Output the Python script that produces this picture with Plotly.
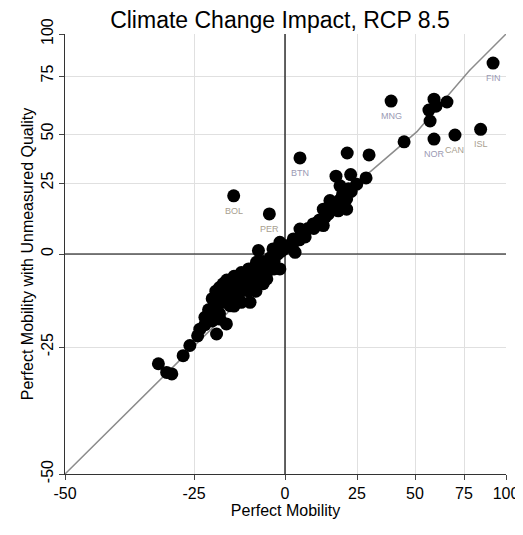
import numpy as np
import plotly.graph_objects as go

# axis is nonlinear in the reference: tick values and their pixel offsets from 0
tick_vals = [-50, -25, 0, 25, 50, 75, 100]
x_pos = [-220, -91, 0, 72, 130, 179, 221]
y_pos = [-220, -93, 0, 71, 120, 178, 220]

# perfect mobility (x) vs perfect mobility w/ unmeasured quality (y)
pm = [92.3, 39.7, 59.7, 66.3, 57.1, 60.7, 57.7, 59.7, 70.4, 84.9, 45.3, 30.2,
      5.2, -14.1, -4.3, 21.6, 28.9, 17.7, 22.8, 19.1, 21.4, 18.5, 21.4, 13.3, 15.6, 24.9,
      13.3, 9.8, 5.2, 2.9, -1.4, -3.3, 3.5, -7.3, -7.8, -1.4, -5.0, -9.6, -14.2, -17.0,
      -12.4, -9.6, -15.1, -20.1, -17.9, -16.1, -23.4, -18.8, -25.8, -27.1, -31.9, -29.3, -30.3,
      -20, -19, -18, -17, -16, -15, -14, -13, -12, -11, -10, -9, -8, -7, -6, -5, -4, -3, -2, -1,
      0, 1, 2, 3, 4, 5, 6, 7, 8, 10, 11, 12, 14, 15, 16, 17, 19, 20, 22, 23,
      -22, -21, -19, -17, -15, -13, -11, -9, -7, -5, -3, -18, -14, -12, -10, -8, -6, -16, -20, -22, -24]
pmq = [82.7, 64.2, 65.0, 63.8, 60.3, 62.0, 55.6, 47.4, 49.5, 52.0, 46.0, 39.3,
       37.8, 20.5, 14.1, 40.3, 27.6, 28.5, 29.3, 24.0, 19.4, 15.2, 15.8, 15.8, 18.8, 24.6,
       10.0, 10.6, 8.8, 5.3, 4.1, 1.8, 0.6, 1.2, -2.2, -4.0, -6.7, -7.6, -8.5, -11.2,
       -10.3, -13.0, -13.9, -15.2, -17.5, -18.8, -20.2, -21.5, -24.6, -26.7, -28.3, -30.3, -30.0,
       -12, -10, -9, -8, -7, -9, -6, -7, -5, -6, -4, -5, -3, -4, -2, -3, -1, -2, 0, 1,
       2, 3, 3, 4, 5, 5, 7, 6, 9, 9, 11, 12, 13, 14, 17, 16, 19, 21, 23, 22,
       -17, -15, -14, -13, -12, -11, -9, -8, -7, -5, -4, -16, -14, -13, -10, -10, -8, -11, -18, -19, -22]

labels = ["FIN", "MNG", "NOR", "CAN", "ISL", "BTN", "BOL", "PER"]
label_x = [92.3, 39.7, 59.7, 70.4, 84.9, 5.2, -14.1, -4.3]
label_y = [82.7, 64.2, 47.4, 49.5, 52.0, 37.8, 20.5, 14.1]
label_col = ["#9a9ab4", "#9a9ab4", "#9a9ab4", "#a8a090", "#a8a090", "#9a9ab4", "#a8a090", "#a8a090"]


def tx(v):
    return np.interp(v, tick_vals, x_pos)


def ty(v):
    return np.interp(v, tick_vals, y_pos)


fig = go.Figure()
diag = np.linspace(-50, 100, 301)
fig.add_trace(go.Scatter(x=tx(diag), y=ty(diag), mode="lines",
                         line=dict(color="#8c8c8c", width=1.5), hoverinfo="skip"))
fig.add_trace(go.Scatter(x=tx(pm), y=ty(pmq), mode="markers",
                         marker=dict(color="black", size=13)))
for lab, lx, ly, c in zip(labels, label_x, label_y, label_col):
    fig.add_annotation(x=tx(lx), y=ty(ly), text=lab, showarrow=False, yshift=-15,
                       font=dict(size=9, color=c, family="Liberation Sans"))

fig.add_shape(type="line", x0=0, x1=0, y0=-220, y1=220, line=dict(color="black", width=1.2))
fig.add_shape(type="line", x0=-220, x1=221, y0=0, y1=0, line=dict(color="black", width=1.2))

fig.update_layout(
    width=523, height=535, showlegend=False,
    paper_bgcolor="white", plot_bgcolor="white",
    margin=dict(l=57, r=25, t=26, b=69, autoexpand=False),
    font=dict(family="Liberation Sans", color="black"),
    title=dict(text="Climate Change Impact, RCP 8.5", x=0.52, xanchor="center",
               yref="container", y=0.992, yanchor="top", automargin=False,
               font=dict(size=23)),
)
fig.update_xaxes(range=[-220, 221], tickvals=[tx(v) for v in tick_vals],
                 ticktext=[str(v) for v in tick_vals], showgrid=True, gridcolor="#e0e0e0",
                 zeroline=False, showline=True, linecolor="#333", ticks="outside",
                 ticklen=5, tickfont=dict(size=16), automargin=False,
                 title=dict(text="Perfect Mobility", font=dict(size=16), standoff=0))
fig.update_yaxes(range=[-220, 220], tickvals=[ty(v) for v in tick_vals],
                 ticktext=[str(v) for v in tick_vals], showgrid=True, gridcolor="#e0e0e0",
                 zeroline=False, showline=True, linecolor="#333", ticks="outside",
                 ticklen=5, tickfont=dict(size=16), tickangle=-90, automargin=False,
                 title=dict(text="Perfect Mobility with Unmeasured Quality",
                            font=dict(size=16), standoff=0))

fig.write_html("out.html")
